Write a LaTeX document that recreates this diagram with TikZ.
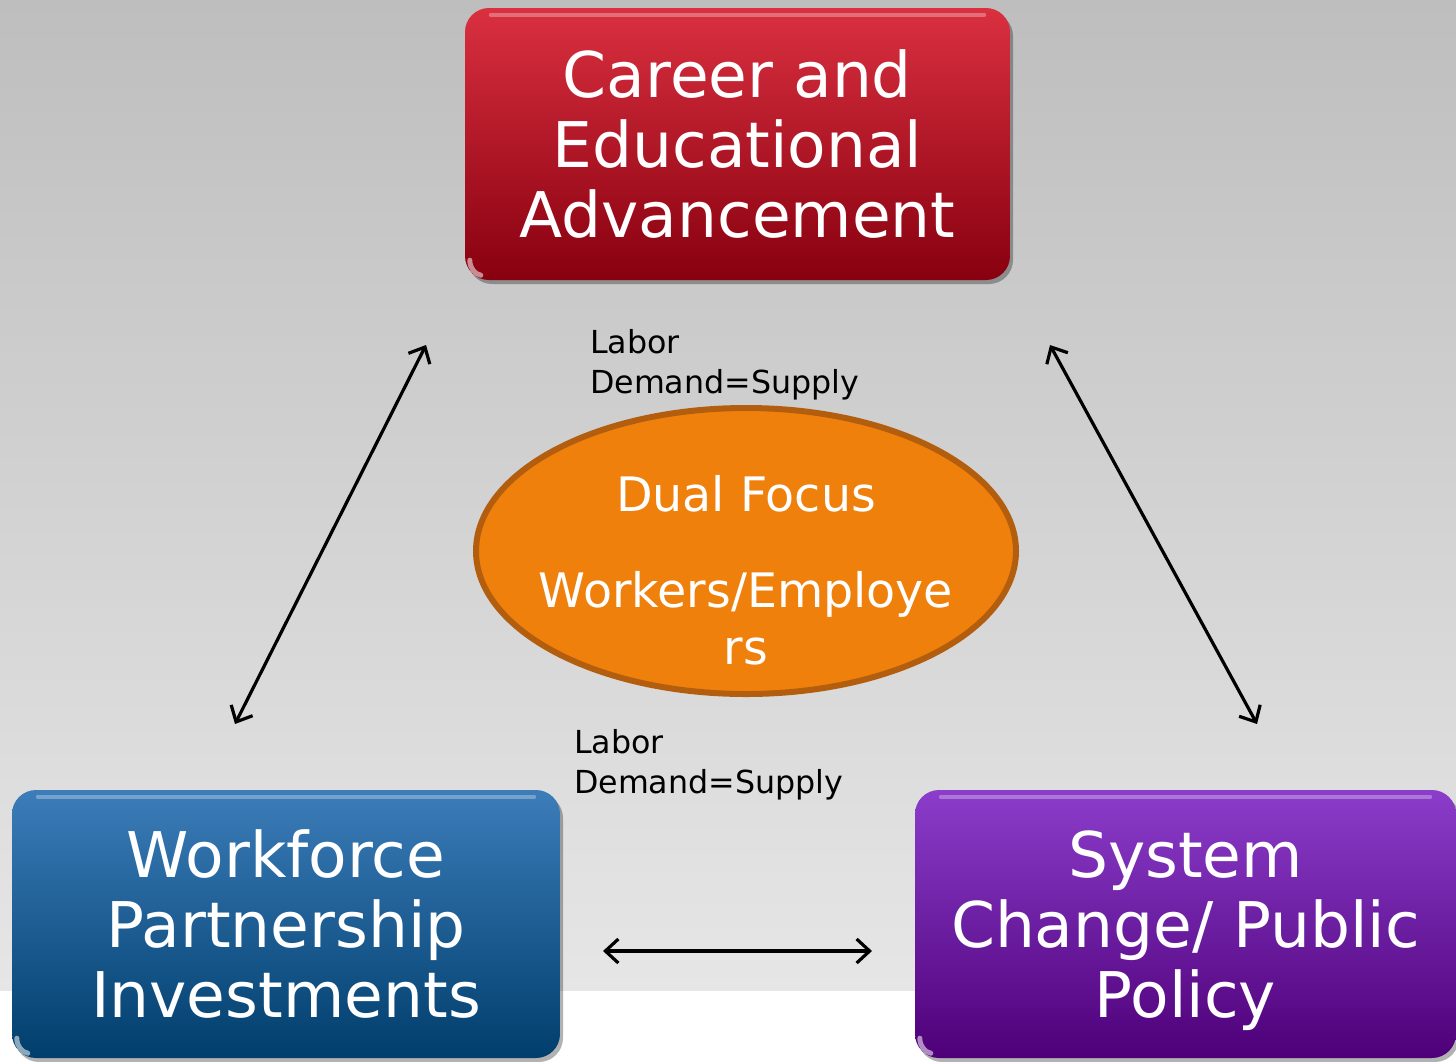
\documentclass[tikz,border=0pt]{standalone}
\usepackage{fontspec}
\setmainfont{DejaVu Sans}
\usetikzlibrary{arrows.meta,shapes.geometric,shadows}

\definecolor{bgtop}{HTML}{BEBEBE}
\definecolor{bgbot}{HTML}{E6E6E6}
\definecolor{redtop}{HTML}{DA3040}
\definecolor{redbot}{HTML}{88000F}
\definecolor{bluetop}{HTML}{3C7DBA}
\definecolor{bluebot}{HTML}{003E6C}
\definecolor{purptop}{HTML}{8B3DCB}
\definecolor{purpbot}{HTML}{4E0079}
\definecolor{ellfill}{HTML}{EF800B}
\definecolor{elledge}{HTML}{B35E0F}

\begin{document}
\begin{tikzpicture}[x=1pt,y=-1pt,
  panel/.style={rounded corners=24pt, inner sep=0pt, text=white, align=center,
    font=\fontsize{63}{70}\selectfont, text depth=0pt,
    drop shadow={shadow xshift=3pt, shadow yshift=-4pt, fill=black, opacity=0.3}},
  gloss/.style={white, opacity=0.3, line width=4pt, line cap=round},
  shine/.style={white, opacity=0.55, line width=5pt, line cap=round},
  label/.style={anchor=north west, inner sep=0pt, align=left,
    font=\fontsize{31.7}{40}\selectfont, text=black},
  link/.style={{Straight Barb[length=13pt,width=24pt]}-{Straight Barb[length=13pt,width=24pt]},
    line width=3.2pt, black}]

% page and backdrop
\useasboundingbox (0,0) rectangle (1456,1061);
\fill[white] (0,0) rectangle (1456,1061);
\shade[top color=bgtop, bottom color=bgbot] (0,0) rectangle (1456,990);

% the three panels
\node[panel, top color=redtop, bottom color=redbot,
      minimum width=545pt, minimum height=272pt] (career) at (737.5,144)
  {Career and\\Educational\\Advancement};
\node[panel, top color=bluetop, bottom color=bluebot,
      minimum width=548pt, minimum height=268pt] (workforce) at (286,924)
  {Workforce\\Partnership\\Investments};
\node[panel, top color=purptop, bottom color=purpbot,
      minimum width=541pt, minimum height=268pt] (policy) at (1185.5,924)
  {System\\Change/ Public\\Policy};

% glossy rims along the top edges and shine on the lower left corners
\foreach \p in {career,workforce,policy}{
  \draw[gloss] ([xshift=26pt,yshift=-7pt]\p.north west) -- ([xshift=-26pt,yshift=-7pt]\p.north east);
  \draw[shine] ([xshift=5pt,yshift=20pt]\p.south west)
    .. controls ([xshift=5pt,yshift=12pt]\p.south west)
    and ([xshift=10pt,yshift=6pt]\p.south west) .. ([xshift=16pt,yshift=5pt]\p.south west);
}

% central ellipse
\node[ellipse, draw=elledge, line width=6pt, fill=ellfill, inner sep=0pt,
      minimum width=540pt, minimum height=286pt] (focus) at (746,551) {};
\node[text=white, align=center, inner sep=0pt,
      font=\fontsize{47.5}{57}\selectfont] (focustext) at (746,570)
  {Dual Focus\\[39pt]Workers/Employe\\rs};

% labels
\node[label] (labtop) at (590,329) {Labor\\Demand=Supply};
\node[label] (labbot) at (574,729) {Labor\\Demand=Supply};

% double-headed connectors
\coordinate (l1) at (235,724);
\coordinate (l2) at (426,345);
\coordinate (r1) at (1050,345);
\coordinate (r2) at (1257,724);
\coordinate (b1) at (603,951);
\coordinate (b2) at (872,951);
\draw[link] (l1) -- (l2);
\draw[link] (r1) -- (r2);
\draw[link] (b1) -- (b2);
\end{tikzpicture}
\end{document}
